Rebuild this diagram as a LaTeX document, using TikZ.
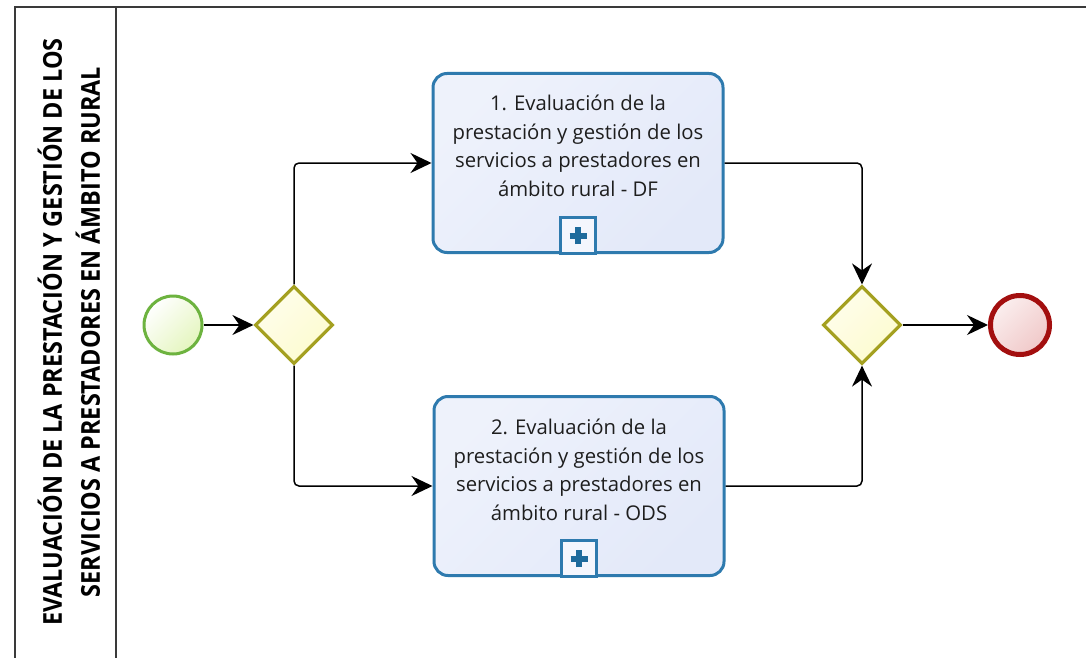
\documentclass[tikz,border=0pt]{standalone}
\usepackage{fontspec}
\setmainfont{Open Sans}
\newfontfamily\hdrfont[FakeStretch=0.9]{Open Sans}
\usetikzlibrary{shapes.geometric,arrows.meta}
\definecolor{poolline}{HTML}{3A3A3A}
\definecolor{startline}{HTML}{6DB33F}
\definecolor{startfill}{HTML}{E4F5BE}
\definecolor{gwline}{HTML}{A4A020}
\definecolor{gwfill}{HTML}{FDFBCF}
\definecolor{endline}{HTML}{A30F0F}
\definecolor{endfill}{HTML}{F0C8C8}
\definecolor{taskline}{HTML}{2E7AAE}
\definecolor{taskfill}{HTML}{E3E9F9}
\definecolor{plusblue}{HTML}{1F6B9C}
\definecolor{txt}{HTML}{1E1E1E}
\tikzset{
  pool/.style={draw=poolline, line width=2pt},
  flow/.style={draw=black, line width=1.5pt, rounded corners=5pt,
    -{Stealth[length=21pt,width=20pt,inset=7pt]}},
  startev/.style={circle, minimum size=58pt, inner sep=0pt, line width=3pt,
    draw=startline, top color=white, bottom color=startfill, shading angle=45},
  endev/.style={circle, minimum size=59pt, inner sep=0pt, line width=5pt,
    draw=endline, top color=white!70!endfill, bottom color=endfill, shading angle=45},
  gw/.style={diamond, aspect=1, minimum width=78pt, minimum height=78pt, inner sep=0pt,
    line width=3.2pt, draw=gwline, top color=white!60!gwfill, bottom color=gwfill, shading angle=45},
  taskbox/.style={rectangle, rounded corners=14pt, minimum width=290pt, minimum height=179pt,
    line width=3pt, draw=taskline, top color=white!40!taskfill, bottom color=taskfill, shading angle=45},
  tasktext/.style={align=center, text=txt, font=\fontsize{20.3}{28.5}\selectfont},
  marker/.style={rectangle, minimum width=35pt, minimum height=36pt, inner sep=0pt,
    line width=2.8pt, draw=taskline, fill=white!60!taskfill},
  plusbar/.style={draw=plusblue, line width=6pt},
  header/.style={rotate=90, align=center, text=black,
    font=\hdrfont\bfseries\fontsize{26}{38}\selectfont}
}
\begin{document}
\begin{tikzpicture}[x=1pt,y=-1pt]
\useasboundingbox (0,0) rectangle (1086,658);
\fill[white] (0,0) rectangle (1086,658);
% pool
\draw[pool] (15,680) -- (15,7) -- (1100,7);
\draw[pool] (116,7) -- (116,680);
\node[header] (hdr) at (69,332) {EVALUACIÓN DE LA PRESTACIÓN Y GESTIÓN DE LOS\\SERVICIOS A PRESTADORES EN ÁMBITO RURAL};
% nodes
\node[startev] (s) at (173,325) {};
\node[gw] (g1) at (294,325) {};
\node[taskbox] (t1) at (578,163) {};
\node[taskbox] (t2) at (579,486) {};
\node[gw] (g2) at (862,325) {};
\node[endev] (e) at (1020,325) {};
\node[tasktext] (t1txt) at (578,146) {1. Evaluación de la\\prestación y gestión de los\\servicios a prestadores en\\ámbito rural - DF};
\node[tasktext] (t2txt) at (579,470) {2. Evaluación de la\\prestación y gestión de los\\servicios a prestadores en\\ámbito rural - ODS};
\node[marker, anchor=south] (m1) at ([yshift=-1pt]t1.south) {};
\node[marker, anchor=south] (m2) at ([yshift=-1pt]t2.south) {};
\foreach \m in {m1,m2}{
  \draw[plusbar] ([xshift=-8.5pt]\m.center) -- ([xshift=8.5pt]\m.center);
  \draw[plusbar] ([yshift=-8.5pt]\m.center) -- ([yshift=8.5pt]\m.center);
}
% flows
\draw[flow] (s.east) -- (g1.west);
\draw[flow] (g1.north) |- (t1.west);
\draw[flow] (g1.south) |- (t2.west);
\draw[flow] (t1.east) -| (g2.north);
\draw[flow] (t2.east) -| (g2.south);
\draw[flow] (g2.east) -- (e.west);
\end{tikzpicture}
\end{document}
